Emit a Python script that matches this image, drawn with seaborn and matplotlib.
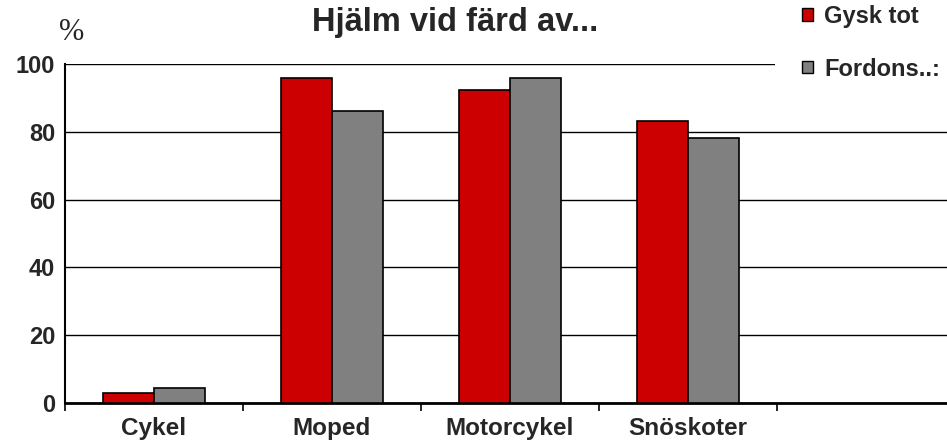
import matplotlib
matplotlib.use("Agg")
import matplotlib.pyplot as plt
import seaborn as sns
import pandas as pd
from matplotlib.patches import Patch, Rectangle

categories = ["Cykel", "Moped", "Motorcykel", "Snöskoter"]
series_names = ["Gysk tot", "Fordons..:"]
gysk_tot = [3.0, 96.0, 92.2, 83.3]
fordons = [4.5, 86.2, 96.0, 78.1]
y_ticks = [0, 20, 40, 60, 80, 100]
colors = ["#CC0000", "#808080"]

rows = []
for c, v in zip(categories, gysk_tot):
    rows.append({"cat": c, "serie": series_names[0], "val": v})
for c, v in zip(categories, fordons):
    rows.append({"cat": c, "serie": series_names[1], "val": v})
df = pd.DataFrame(rows)

sns.set_theme(style="white")
plt.rcParams["font.family"] = ["Liberation Sans", "DejaVu Sans"]

W, H = 947, 446
fig = plt.figure(figsize=(W / 100, H / 100), dpi=100)
ax = fig.add_axes([65 / W, 43 / H, 890 / W, 339 / H])

sns.barplot(data=df, x="cat", y="val", hue="serie", order=categories,
            hue_order=series_names, palette=colors, width=0.573,
            edgecolor="black", linewidth=1.2, saturation=1, ax=ax, legend=False,
            zorder=3)

ax.set_xlim(-0.5, 4.5)
ax.set_ylim(0, 100)
ax.set_yticks(y_ticks)
ax.set_yticklabels([str(t) for t in y_ticks], fontsize=17, fontweight="bold")
ax.yaxis.grid(True, color="black", linewidth=1.0, zorder=0)
ax.set_axisbelow(True)

ax.set_xticks(range(len(categories)))
ax.set_xticklabels(categories, fontsize=17.5, fontweight="bold")
ax.tick_params(axis="x", which="major", length=0, pad=10)
ax.set_xticks([-0.5, 0.5, 1.5, 2.5, 3.5, 4.5], minor=True)
ax.tick_params(axis="x", which="minor", length=6, width=1.2, color="black", direction="out")
ax.tick_params(axis="y", length=6, width=1.2, color="black", direction="out", pad=1)
ax.xaxis.set_tick_params(bottom=True, which="both")

for s in ["top", "right"]:
    ax.spines[s].set_visible(False)
ax.spines["left"].set_color("black")
ax.spines["bottom"].set_color("black")
ax.spines["left"].set_linewidth(1.5)
ax.spines["bottom"].set_linewidth(2.0)
ax.set_xlabel("")
ax.set_ylabel("")

fig.text(455 / W, 1 - 31 / H, "Hjälm vid färd av...", ha="center", va="baseline",
         fontsize=23.5, fontweight="bold")
fig.text(72 / W, 1 - 32 / H, "%", ha="center", va="center", fontsize=22,
         family=["Liberation Serif", "DejaVu Serif"])

# white legend area covering the top gridline
fig.add_artist(Rectangle((775 / W, 1 - 88 / H), (W - 775) / W, 88 / H,
                         transform=fig.transFigure, facecolor="white",
                         edgecolor="none", zorder=4))

handles = [Patch(facecolor=colors[i], edgecolor="black", linewidth=1.0) for i in range(2)]
leg = fig.legend(handles, series_names, loc="upper left",
                 bbox_to_anchor=(802 / W, 1 - 5 / H), frameon=False,
                 prop={"weight": "bold", "size": 17}, handlelength=0.45,
                 handleheight=0.45, handletextpad=0.5, labelspacing=1.25,
                 borderaxespad=0, borderpad=0)
leg.set_zorder(5)

fig.savefig("out.png", dpi=100)
